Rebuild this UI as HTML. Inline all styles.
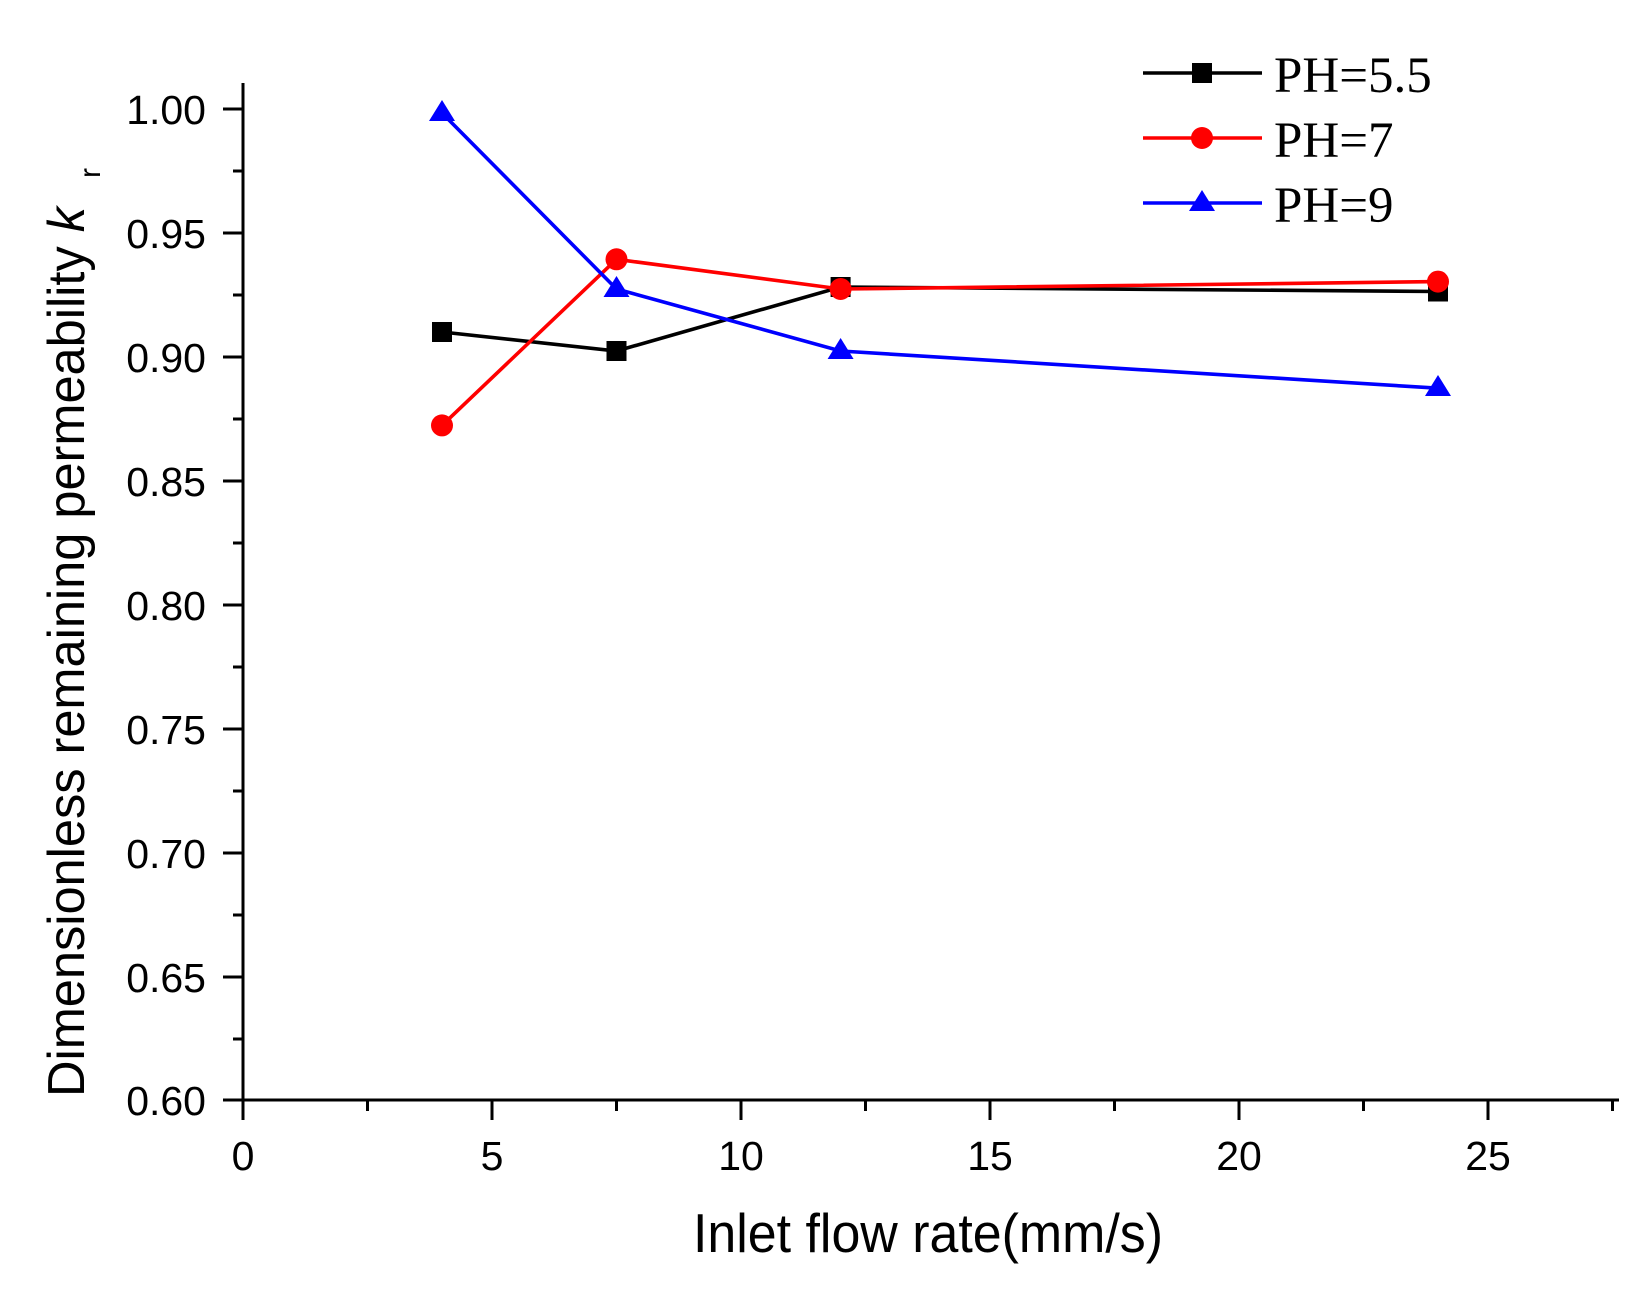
<!DOCTYPE html>
<html><head><meta charset="utf-8"><style>html,body{margin:0;padding:0;background:#fff;}svg{display:block;}</style></head>
<body>
<svg width="1638" height="1301" viewBox="0 0 1638 1301" xmlns="http://www.w3.org/2000/svg">
<rect width="1638" height="1301" fill="#fff"/>
<g stroke="#000" stroke-width="3" fill="none">
<line x1="243" y1="83" x2="243" y2="1101"/>
<line x1="223" y1="1100" x2="1619" y2="1100"/>
<line x1="223" y1="109" x2="243" y2="109"/><line x1="223" y1="233" x2="243" y2="233"/>
<line x1="223" y1="357" x2="243" y2="357"/><line x1="223" y1="481" x2="243" y2="481"/>
<line x1="223" y1="605" x2="243" y2="605"/><line x1="223" y1="729" x2="243" y2="729"/>
<line x1="223" y1="853" x2="243" y2="853"/><line x1="223" y1="977" x2="243" y2="977"/>
<line x1="233" y1="171" x2="243" y2="171"/><line x1="233" y1="295" x2="243" y2="295"/>
<line x1="233" y1="419" x2="243" y2="419"/><line x1="233" y1="543" x2="243" y2="543"/>
<line x1="233" y1="667" x2="243" y2="667"/><line x1="233" y1="791" x2="243" y2="791"/>
<line x1="233" y1="915" x2="243" y2="915"/><line x1="233" y1="1039" x2="243" y2="1039"/>
<line x1="243" y1="1100" x2="243" y2="1120"/><line x1="492" y1="1100" x2="492" y2="1120"/>
<line x1="741" y1="1100" x2="741" y2="1120"/><line x1="990" y1="1100" x2="990" y2="1120"/>
<line x1="1239" y1="1100" x2="1239" y2="1120"/><line x1="1488" y1="1100" x2="1488" y2="1120"/>
<line x1="367.5" y1="1100" x2="367.5" y2="1111"/><line x1="616.5" y1="1100" x2="616.5" y2="1111"/>
<line x1="865.5" y1="1100" x2="865.5" y2="1111"/><line x1="1114.5" y1="1100" x2="1114.5" y2="1111"/>
<line x1="1363.5" y1="1100" x2="1363.5" y2="1111"/><line x1="1612.5" y1="1100" x2="1612.5" y2="1111"/>
</g>
<g font-family="Liberation Sans, sans-serif" font-size="41" fill="#000" text-anchor="end">
<text x="206" y="124">1.00</text><text x="206" y="248">0.95</text><text x="206" y="372">0.90</text>
<text x="206" y="496">0.85</text><text x="206" y="620">0.80</text><text x="206" y="744">0.75</text>
<text x="206" y="868">0.70</text><text x="206" y="992">0.65</text><text x="206" y="1115">0.60</text>
</g>
<g font-family="Liberation Sans, sans-serif" font-size="41" fill="#000" text-anchor="middle">
<text x="243" y="1170">0</text><text x="492" y="1170">5</text><text x="741" y="1170">10</text>
<text x="990" y="1170">15</text><text x="1239" y="1170">20</text><text x="1488" y="1170">25</text>
</g>
<text x="693" y="1252" font-family="Liberation Sans, sans-serif" font-size="55" textLength="470" lengthAdjust="spacingAndGlyphs">Inlet flow rate(mm/s)</text>
<text transform="translate(84,1097) rotate(-90)" font-family="Liberation Sans, sans-serif" font-size="52" textLength="890" lengthAdjust="spacingAndGlyphs">Dimensionless remaining permeability <tspan font-style="italic">k</tspan></text>
<text transform="translate(100,178) rotate(-90)" font-family="Liberation Sans, sans-serif" font-size="30">r</text>
<g stroke-width="3.6" fill="none">
<polyline stroke="#000" points="442,332 616.5,351 840.6,287 1438,291.5"/>
<polyline stroke="#f00" points="442,425.4 616.5,259.3 840.6,289 1438,281.6"/>
<polyline stroke="#00f" points="442,113 616.5,289 840.6,351 1438,388.2"/>
</g>
<g fill="#000">
<rect x="432" y="322" width="20" height="20"/><rect x="606.5" y="341" width="20" height="20"/>
<rect x="830.6" y="277" width="20" height="20"/><rect x="1428" y="281.5" width="20" height="20"/>
</g>
<g fill="#f00">
<circle cx="442" cy="425.4" r="11"/><circle cx="616.5" cy="259.3" r="11"/>
<circle cx="840.6" cy="289" r="11"/><circle cx="1438" cy="281.6" r="11"/>
</g>
<g fill="#00f">
<polygon points="442,100 429,121 455,121"/><polygon points="616.5,276 603.5,297 629.5,297"/>
<polygon points="840.6,338 827.6,359 853.6,359"/><polygon points="1438,375 1425,396 1451,396"/>
</g>
<g stroke-width="3.6">
<line x1="1143" y1="73" x2="1262" y2="73" stroke="#000"/>
<line x1="1143" y1="138" x2="1262" y2="138" stroke="#f00"/>
<line x1="1143" y1="203" x2="1262" y2="203" stroke="#00f"/>
</g>
<rect x="1192" y="63" width="20" height="20" fill="#000"/>
<circle cx="1202" cy="138" r="11" fill="#f00"/>
<polygon points="1202,190 1189,211 1215,211" fill="#00f"/>
<g font-family="Liberation Serif, serif" font-size="51" fill="#000">
<text x="1274" y="92">PH=5.5</text><text x="1274" y="157">PH=7</text><text x="1274" y="222">PH=9</text>
</g>
</svg>
</body></html>
